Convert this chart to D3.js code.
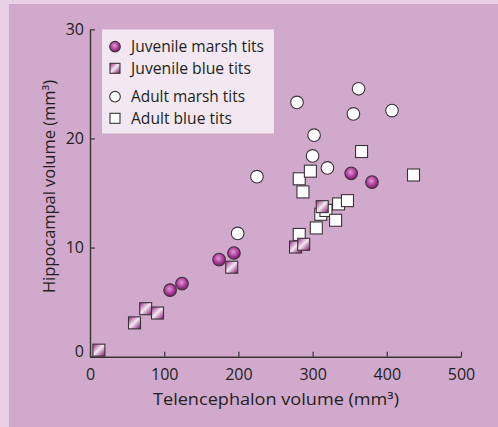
<!DOCTYPE html>
<html>
<head>
<meta charset="utf-8">
<script src="https://cdn.jsdelivr.net/npm/d3@7"></script>
<style>
  html, body { margin: 0; padding: 0; background: #e8d0e6; }
  svg { display: block; }
  text { font-family: "Open Sans", "Noto Sans", sans-serif; fill: #231f20; }
</style>
</head>
<body>
<svg id="chart" width="498" height="427"></svg>
<script>
// Telencephalon volume (mm3) and hippocampal volume (mm3) per bird
const juvenileMarshTel = [108, 124, 174, 194, 352, 380];
const juvenileMarshHip = [6.1, 6.7, 8.9, 9.5, 16.8, 16.0];

const juvenileBlueTel = [12, 60, 75, 91, 191, 277, 288, 313];
const juvenileBlueHip = [0.6, 3.1, 4.4, 4.0, 8.2, 10.05, 10.3, 13.75];

const adultMarshTel = [199, 225, 279, 300, 302, 320, 355, 362, 407];
const adultMarshHip = [11.3, 16.5, 23.3, 18.4, 20.3, 17.3, 22.25, 24.55, 22.55];

const adultBlueTel = [282, 282, 287, 297, 305, 311, 318, 331, 335, 347, 366, 436];
const adultBlueHip = [16.3, 11.2, 15.1, 17.0, 11.8, 13.05, 13.4, 12.5, 14.0, 14.3, 18.8, 16.65];

const xTicks = [0, 100, 200, 300, 400, 500];
const yTicks = [0, 10, 20, 30];
const legendLabels = ["Juvenile marsh tits", "Juvenile blue tits", "Adult marsh tits", "Adult blue tits"];

const svg = d3.select("#chart");
const W = 498, H = 427;

// panel background
svg.append("rect").attr("x", 0).attr("y", 0).attr("width", W).attr("height", H).attr("fill", "#e8d0e6");
svg.append("rect").attr("x", 9).attr("y", 4).attr("width", W - 9).attr("height", H - 4).attr("fill", "#d1a9cd");

const defs = svg.append("defs");
const rg = defs.append("radialGradient").attr("id", "ball").attr("cx", "45%").attr("cy", "40%").attr("r", "60%");
rg.append("stop").attr("offset", "0%").attr("stop-color", "#e49ad6");
rg.append("stop").attr("offset", "55%").attr("stop-color", "#b3449f");
rg.append("stop").attr("offset", "100%").attr("stop-color", "#7a1a6c");

const lg = defs.append("linearGradient").attr("id", "tile").attr("x1", "0%").attr("y1", "0%").attr("x2", "100%").attr("y2", "100%");
lg.append("stop").attr("offset", "0%").attr("stop-color", "#9a2a88");
lg.append("stop").attr("offset", "48%").attr("stop-color", "#f4e8f3");
lg.append("stop").attr("offset", "100%").attr("stop-color", "#7c1069");

const x = d3.scaleLinear().domain([0, 500]).range([90, 461]);
const y = d3.scaleLinear().domain([0, 30]).range([356.7, 29.3]);

// axes with inward ticks
const xAxis = svg.append("g").attr("transform", `translate(0,${y(0)})`)
  .call(d3.axisBottom(x).tickValues(xTicks).tickSizeInner(-5).tickSizeOuter(0).tickPadding(12));
const yAxis = svg.append("g").attr("transform", `translate(${x(0)},0)`)
  .call(d3.axisLeft(y).tickValues(yTicks).tickSizeInner(-5).tickSizeOuter(0).tickPadding(6));

[xAxis, yAxis].forEach(g => {
  g.select(".domain").attr("stroke", "#3a3336").attr("stroke-width", 1.4);
  g.selectAll(".tick line").attr("stroke", "#3a3336").attr("stroke-width", 1.2);
  g.selectAll(".tick text").attr("font-size", 16).attr("fill", "#231f20")
    .attr("font-family", "'Open Sans', 'Noto Sans', sans-serif");
});
yAxis.selectAll(".tick text").attr("dy", d => d === 0 ? "-0.0em" : "0.32em");

// axis titles
svg.append("text").attr("x", 276).attr("y", 405).attr("text-anchor", "middle")
  .attr("font-size", 16).attr("textLength", 246).attr("lengthAdjust", "spacingAndGlyphs")
  .text("Telencephalon volume (mm³)");
svg.append("text").attr("transform", `translate(55,186.5) rotate(-90)`).attr("text-anchor", "middle")
  .attr("font-size", 16).attr("textLength", 213).attr("lengthAdjust", "spacingAndGlyphs")
  .text("Hippocampal volume (mm³)");

// marker drawing helpers
function squares(g, xs, ys, fill, size) {
  g.selectAll(null).data(d3.zip(xs, ys)).join("rect")
    .attr("x", d => x(d[0]) - size / 2).attr("y", d => y(d[1]) - size / 2)
    .attr("width", size).attr("height", size)
    .attr("fill", fill).attr("stroke", "#3a3336").attr("stroke-width", 1.1);
}
function circles(g, xs, ys, fill, r) {
  g.selectAll(null).data(d3.zip(xs, ys)).join("circle")
    .attr("cx", d => x(d[0])).attr("cy", d => y(d[1])).attr("r", r)
    .attr("fill", fill).attr("stroke", "#3a3336").attr("stroke-width", 1.1);
}

const marks = svg.append("g");
squares(marks.append("g"), adultBlueTel, adultBlueHip, "#ffffff", 12);
circles(marks.append("g"), adultMarshTel, adultMarshHip, "#ffffff", 6.3);
circles(marks.append("g"), juvenileMarshTel, juvenileMarshHip, "url(#ball)", 6.3);
squares(marks.append("g"), juvenileBlueTel, juvenileBlueHip, "url(#tile)", 12);

// legend
const leg = svg.append("g");
leg.append("rect").attr("x", 102).attr("y", 29.5).attr("width", 172).attr("height", 104).attr("fill", "#f3e8f2");
const rowsY = [46.7, 68.3, 96.7, 118.3];
const widths = [133, 120, 114, 101];
const fills = ["url(#ball)", "url(#tile)", "#ffffff", "#ffffff"];
const shapes = ["circle", "square", "circle", "square"];
legendLabels.forEach((lab, i) => {
  if (shapes[i] === "circle") {
    leg.append("circle").attr("cx", 115).attr("cy", rowsY[i]).attr("r", 5.3)
      .attr("fill", fills[i]).attr("stroke", "#3a3336").attr("stroke-width", 1.1);
  } else {
    leg.append("rect").attr("x", 110).attr("y", rowsY[i] - 5).attr("width", 10).attr("height", 10)
      .attr("fill", fills[i]).attr("stroke", "#3a3336").attr("stroke-width", 1.1);
  }
  leg.append("text").attr("x", 131).attr("y", rowsY[i]).attr("dy", "0.35em")
    .attr("font-size", 15.5).attr("textLength", widths[i]).attr("lengthAdjust", "spacingAndGlyphs")
    .text(lab);
});
</script>
</body>
</html>
